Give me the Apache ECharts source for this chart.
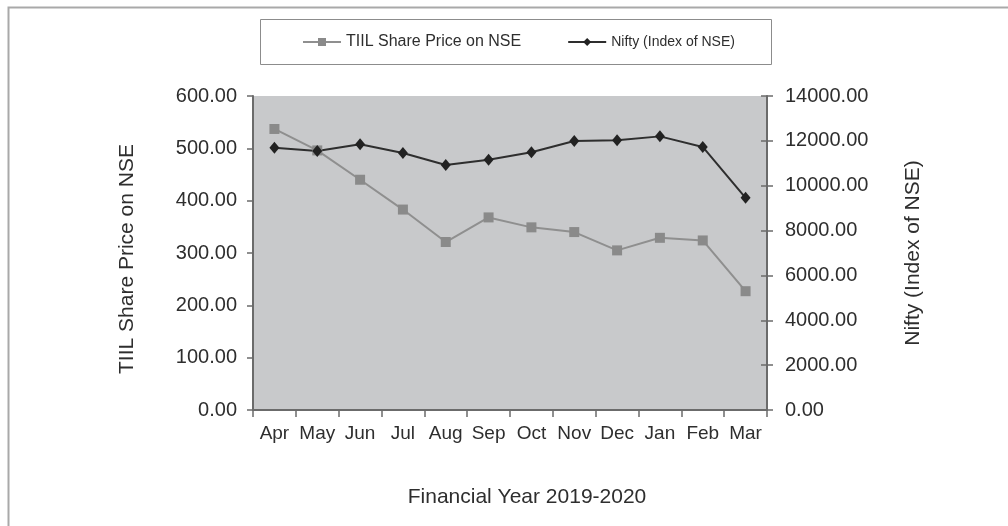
<!DOCTYPE html>
<html>
<head>
<meta charset="utf-8">
<script src="https://cdn.jsdelivr.net/npm/echarts@6/dist/echarts.min.js"></script>
<style>
  html, body { margin: 0; padding: 0; background: #fff; }
  #main { width: 1008px; height: 526px; }
</style>
</head>
<body>
<div id="main"></div>
<script>
// months of the financial year
var months = ['Apr', 'May', 'Jun', 'Jul', 'Aug', 'Sep', 'Oct', 'Nov', 'Dec', 'Jan', 'Feb', 'Mar'];
// TIIL share price (left axis)
var tiilPrice = [537, 496, 440, 383, 321, 368, 349, 340, 305, 329, 324, 227];
// Nifty index (right axis)
var niftyIndex = [11690, 11550, 11850, 11460, 10920, 11160, 11490, 11990, 12030, 12200, 11730, 9460];

var fmt2 = function (v) { return v.toFixed(2); };
var txt = '#2e2e2e';
var axisCol = '#6b6b6b';
var font = 'Liberation Sans, Arial, sans-serif';

var myChart = echarts.init(document.getElementById('main'));

var option = {
    backgroundColor: '#fff',
    animation: false,
    textStyle: { fontFamily: font, color: txt },
    graphic: [
        // outer frame (only top and left edges are visible)
        { type: 'rect', left: 6, top: 5, shape: { width: 1030, height: 560 },
          style: { fill: null, stroke: '#a9a9a9', lineWidth: 2 }, silent: true },
        // legend box
        { type: 'rect', left: 260, top: 19, shape: { width: 511, height: 45 },
          style: { fill: '#fff', stroke: '#8c8c8c', lineWidth: 1 }, silent: true }
    ],
    legend: {
        left: 297,
        top: 29,
        itemWidth: 38,
        itemHeight: 10,
        itemGap: 46,
        textStyle: { color: txt, fontFamily: font },
        data: [
            { name: 'TIIL Share Price on NSE', textStyle: { fontSize: 16 } },
            { name: 'Nifty (Index of NSE)', textStyle: { fontSize: 14 } }
        ]
    },
    grid: {
        left: 253,
        right: 241,
        top: 96,
        bottom: 116,
        show: true,
        backgroundColor: '#c8c9cb',
        borderWidth: 0
    },
    xAxis: {
        type: 'category',
        data: months,
        boundaryGap: true,
        name: 'Financial Year 2019-2020',
        nameLocation: 'middle',
        nameGap: 77,
        nameTextStyle: { fontSize: 21, color: txt, padding: [0, 0, 0, 34] },
        axisLine: { lineStyle: { color: axisCol, width: 2 } },
        axisTick: { show: true, interval: 0, length: 7, lineStyle: { color: axisCol, width: 1.5 } },
        axisLabel: { interval: 0, hideOverlap: false, fontSize: 19, color: txt, margin: 14 },
        splitLine: { show: false }
    },
    yAxis: [
        {
            type: 'value',
            position: 'left',
            min: 0,
            max: 600,
            interval: 100,
            name: 'TIIL Share Price on NSE',
            nameLocation: 'middle',
            nameGap: 115,
            nameTextStyle: { fontSize: 21, color: txt, padding: [0, 12, 0, 0] },
            axisLine: { show: true, lineStyle: { color: axisCol, width: 2 } },
            axisTick: { show: true, length: 6, lineStyle: { color: axisCol, width: 1.5 } },
            axisLabel: { fontSize: 20, color: txt, margin: 16, formatter: fmt2 },
            splitLine: { show: false }
        },
        {
            type: 'value',
            position: 'right',
            min: 0,
            max: 14000,
            interval: 2000,
            name: 'Nifty (Index of NSE)',
            nameLocation: 'middle',
            nameGap: 136,
            nameRotate: 90,
            nameTextStyle: { fontSize: 21, color: txt },
            axisLine: { show: true, lineStyle: { color: axisCol, width: 2 } },
            axisTick: { show: true, length: 6, lineStyle: { color: axisCol, width: 1.5 } },
            axisLabel: { fontSize: 20, color: txt, margin: 18, formatter: fmt2 },
            splitLine: { show: false }
        },
        {
            // inner half of the crossing ticks on the right axis
            type: 'value',
            position: 'right',
            min: 0,
            max: 14000,
            interval: 2000,
            axisLine: { show: false },
            axisTick: { show: true, inside: true, length: 6, lineStyle: { color: axisCol, width: 1.5 } },
            axisLabel: { show: false },
            splitLine: { show: false }
        }
    ],
    series: [
        {
            name: 'TIIL Share Price on NSE',
            type: 'line',
            yAxisIndex: 0,
            data: tiilPrice,
            symbol: 'rect',
            symbolSize: 10,
            itemStyle: { color: '#8a8a8a' },
            lineStyle: { color: '#8f8f8f', width: 2 }
        },
        {
            name: 'Nifty (Index of NSE)',
            type: 'line',
            yAxisIndex: 1,
            data: niftyIndex,
            symbol: 'diamond',
            symbolSize: [10, 12],
            itemStyle: { color: '#222' },
            lineStyle: { color: '#2e2e2e', width: 2 }
        }
    ]
};

myChart.setOption(option);
</script>
</body>
</html>
